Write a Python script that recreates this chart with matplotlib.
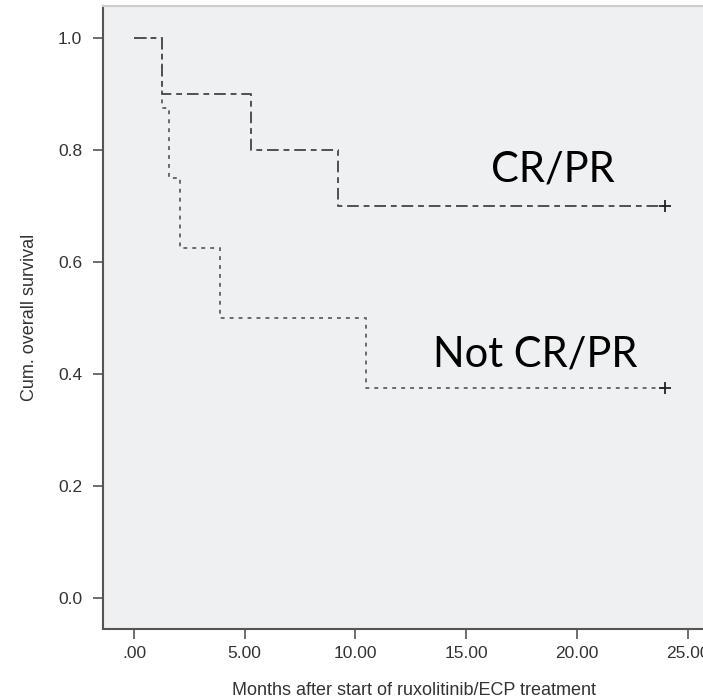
import matplotlib
matplotlib.use("Agg")
import matplotlib.pyplot as plt
import numpy as np

# Kaplan-Meier step data (event times in months, survival after each step)
cr_times = [0.0, 1.25, 5.3, 9.2, 24.0]
cr_surv = [1.0, 0.9, 0.8, 0.7, 0.7]
cr_censor_time = [24.0]
cr_censor_surv = [0.7]

ncr_times = [0.0, 1.25, 1.6, 2.1, 3.9, 10.5, 24.0]
ncr_surv = [1.0, 0.875, 0.75, 0.625, 0.5, 0.375, 0.375]
ncr_censor_time = [24.0]
ncr_censor_surv = [0.375]

x_ticks = [0, 5, 10, 15, 20, 25]
x_ticklabels = [".00", "5.00", "10.00", "15.00", "20.00", "25.00"]
y_ticks = [0.0, 0.2, 0.4, 0.6, 0.8, 1.0]
y_ticklabels = ["0.0", "0.2", "0.4", "0.6", "0.8", "1.0"]

fig = plt.figure(figsize=(7.03, 6.99), dpi=100)
ax = fig.add_axes([103/703, 1 - 629/699, 1 - 103/703, (629 - 6)/699])
ax.set_facecolor("#eff0f2")

ax.step(ncr_times, ncr_surv, where="post", color="#6a6a6a", lw=1.4,
        linestyle=(0, (2.0, 2.6)))
ax.step(cr_times, cr_surv, where="post", color="#505050", lw=1.4,
        linestyle=(0, (6, 2.5, 3, 2.5)))
ax.plot(cr_censor_time, cr_censor_surv, marker="+", color="#222222", ms=8, mew=1.3, ls="none")
ax.plot(ncr_censor_time, ncr_censor_surv, marker="+", color="#222222", ms=8, mew=1.3, ls="none")

ax.set_xlim(-1.4, 25.7)
ax.set_ylim(-0.055, 1.057)

tfont = dict(family="Liberation Sans", size=12.5, color="#333333")
lfont = dict(family="Liberation Sans", size=13, color="#333333")
ax.set_xticks(x_ticks)
ax.set_xticklabels(x_ticklabels, fontdict=tfont)
ax.set_yticks(y_ticks)
ax.set_yticklabels(y_ticklabels, fontdict=tfont)
ax.tick_params(direction="out", length=7, width=1.2, color="#555555")
ax.tick_params(axis="x", pad=5)
ax.tick_params(axis="y", pad=8)

for s in ["left", "bottom", "top"]:
    ax.spines[s].set_color("#555555")
    ax.spines[s].set_linewidth(1.5)
ax.spines["top"].set_color("#cccccc")
ax.spines["right"].set_visible(False)

ax.set_xlabel("Months after start of ruxolitinib/ECP treatment", fontdict=lfont, labelpad=11)
ax.set_ylabel("Cum. overall survival", fontdict=lfont, labelpad=14)
ax.xaxis.set_label_coords(0.518, -0.085)

lab = dict(family="Lato", size=30, color="black", ha="center", va="center")
ax.text(18.9, 0.765, "CR/PR", **lab)
ax.text(18.1, 0.435, "Not CR/PR", **lab)

fig.savefig("out.png", dpi=100)
